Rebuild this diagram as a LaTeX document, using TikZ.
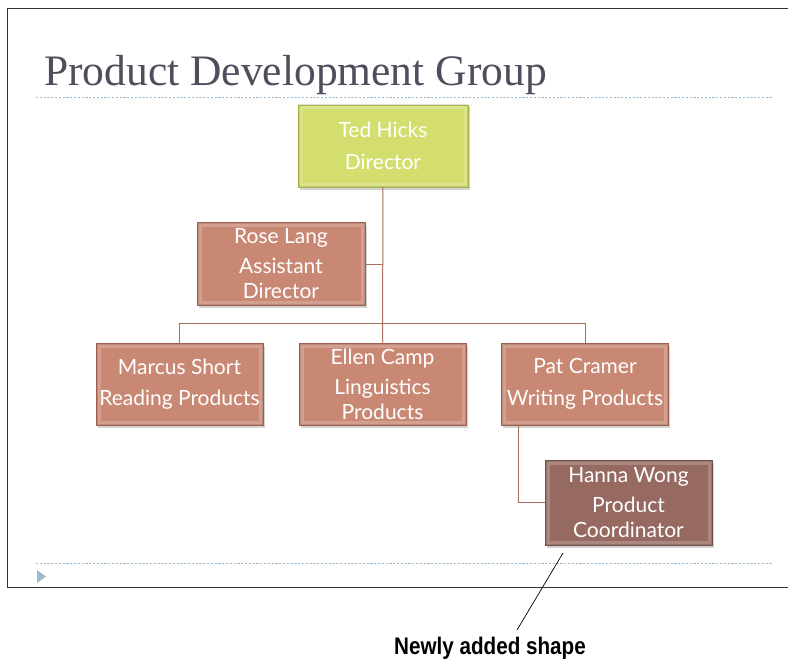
\documentclass[tikz,border=0pt]{standalone}
\usepackage{fontspec}
\usepackage{graphicx}
\setmainfont{Lato}
\newfontfamily\titlefont{Liberation Serif}
\newfontfamily\calloutfont{Liberation Sans}
\usetikzlibrary{shadows}
\definecolor{ygreen}{RGB}{212,222,110}
\definecolor{ygreenedge}{RGB}{170,180,70}
\definecolor{rust}{RGB}{201,136,116}
\definecolor{rustedge}{RGB}{160,95,78}
\definecolor{mocha}{RGB}{150,106,96}
\definecolor{mochaedge}{RGB}{115,78,70}
\definecolor{conn}{RGB}{170,110,92}
\definecolor{guide}{RGB}{160,186,205}
\definecolor{titlegray}{RGB}{78,78,92}
\tikzset{
  orgbox/.style={rectangle, minimum width=167pt, minimum height=82pt, inner sep=0pt,
    text=white, align=center, font=\fontsize{21}{24.5}\selectfont,
    drop shadow={opacity=0.35, shadow xshift=1.5pt, shadow yshift=-2.5pt},
    path picture={\draw[white,opacity=0.2,line width=9pt]
      (path picture bounding box.south west) rectangle (path picture bounding box.north east);
      \draw[black,opacity=0.12,line width=3pt]
      (path picture bounding box.south west) rectangle (path picture bounding box.north east);}},
  greenbox/.style={orgbox, fill=ygreen, draw=ygreenedge, line width=0.6pt},
  rustbox/.style={orgbox, fill=rust, draw=rustedge, line width=0.6pt},
  mochabox/.style={orgbox, fill=mocha, draw=mochaedge, line width=0.6pt},
  link/.style={draw=conn, line width=1pt},
  guideline/.style={draw=guide, line width=0.8pt, dash pattern=on 2.2pt off 1.6pt}
}
\begin{document}
\begin{tikzpicture}[x=1pt,y=-1pt]
\useasboundingbox (0,0) rectangle (788,661);
% slide frame
\draw[line width=0.9pt, black!80] (788,8) -- (7,8) -- (7,587) -- (788,587);
% title
\node[anchor=base west, inner sep=0pt, text=titlegray, font=\titlefont\fontsize{43.5}{46}\selectfont] (title) at (44,85) {Product Development Group};
% guides
\coordinate (g1a) at (36,97); \coordinate (g1b) at (772,97);
\coordinate (g2a) at (36,563); \coordinate (g2b) at (772,563);
\draw[guideline] (g1a) -- (g1b);
\draw[guideline] (g2a) -- (g2b);
\fill[guide] (37,570) -- (46,576.5) -- (37,583) -- cycle;
% junction points
\coordinate (barL) at (179.5,323);
\coordinate (barR) at (585,323);
\coordinate (roseJ) at (383,264);
\coordinate (patL) at (518,502);
% boxes
\node[greenbox, minimum width=170pt] (ted) at (383,146) {Ted Hicks\\[7pt]Director};
\node[rustbox, minimum width=168pt, minimum height=83pt] (rose) at (281,263.5) {Rose Lang\\[6pt]Assistant\\Director};
\node[rustbox] (marcus) at (179.5,384) {Marcus Short\\[7pt]Reading Products};
\node[rustbox] (ellen) at (382.5,384) {Ellen Camp\\[6pt]Linguistics\\Products};
\node[rustbox] (pat) at (585,384) {Pat Cramer\\[7pt]Writing Products};
\node[mochabox, minimum height=85pt] (hanna) at (628.5,502.5) {Hanna Wong\\[6pt]Product\\Coordinator};
% links
\draw[link] (ted.south) -- (ellen.north);
\draw[link] (rose.east |- roseJ) -- (roseJ);
\draw[link] (barL) -- (barR);
\draw[link] (barL) -- (marcus.north);
\draw[link] (barR) -- (pat.north);
\draw[link] (pat.south -| patL) -- (patL) -- (hanna.west |- patL);
% callout
\coordinate (calltop) at (563,553);
\coordinate (callbot) at (517,630);
\node[inner sep=0pt, font=\calloutfont\bfseries\fontsize{24}{26}\selectfont] (callout) at (490,648) {\scalebox{0.86}[1]{Newly added shape}};
\draw[line width=0.7pt] (calltop) -- (callbot);
\end{tikzpicture}
\end{document}
